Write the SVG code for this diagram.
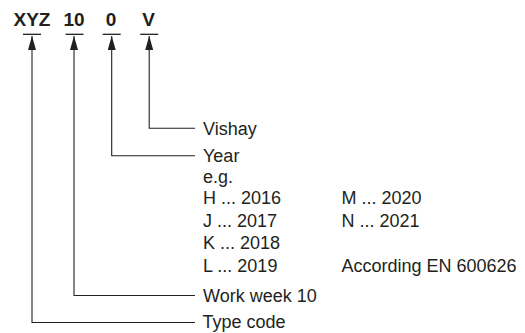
<svg xmlns="http://www.w3.org/2000/svg" width="525" height="333" viewBox="0 0 525 333">
<style>
.code{font-family:"Liberation Sans",Arial,sans-serif;font-weight:bold;font-size:19px;fill:#231f20;text-anchor:middle}
.lbl{font-family:"Liberation Sans",Arial,sans-serif;font-size:18px;fill:#231f20}
.bar{stroke:#231f20;stroke-width:1.3;fill:none}
.con{stroke:#231f20;stroke-width:1.1;fill:none;marker-end:url(#ah)}
</style>
<defs>
<marker id="ah" markerUnits="userSpaceOnUse" markerWidth="14" markerHeight="8" viewBox="0 0 14 8" refX="14" refY="4" orient="auto">
<path d="M0,0 L14,4 L0,8 Z" fill="#231f20"/>
</marker>
</defs>
<rect width="525" height="333" fill="#fff"/>
<g id="code-xyz"><text class="code" x="32" y="26">XYZ</text><line class="bar" x1="23" y1="34.3" x2="41" y2="34.3"/></g>
<g id="code-10"><text class="code" x="74" y="26">10</text><line class="bar" x1="65.5" y1="34.3" x2="83.5" y2="34.3"/></g>
<g id="code-0"><text class="code" x="111" y="26">0</text><line class="bar" x1="102.7" y1="34.3" x2="120.7" y2="34.3"/></g>
<g id="code-v"><text class="code" x="148.5" y="26">V</text><line class="bar" x1="140.2" y1="34.3" x2="158.2" y2="34.3"/></g>
<g id="connectors">
<path class="con" d="M195,322.5 H32 V36"/>
<path class="con" d="M195,295.5 H74 V36"/>
<path class="con" d="M195,155.7 H111.7 V36"/>
<path class="con" d="M195,128.3 H149.2 V36"/>
</g>
<g id="label-vishay"><text class="lbl" x="203" y="134.5">Vishay</text></g>
<g id="label-year">
<text class="lbl" x="203" y="162">Year</text>
<text class="lbl" x="203" y="182.5">e.g.</text>
<text class="lbl" x="203" y="204">H ... 2016</text>
<text class="lbl" x="203" y="226.5">J ... 2017</text>
<text class="lbl" x="203" y="249">K ... 2018</text>
<text class="lbl" x="203" y="272">L ... 2019</text>
<text class="lbl" x="341.5" y="204">M ... 2020</text>
<text class="lbl" x="341.5" y="226.5">N ... 2021</text>
<text class="lbl" x="341.5" y="272">According EN 600626</text>
</g>
<g id="label-week"><text class="lbl" x="203" y="301.5">Work week 10</text></g>
<g id="label-type"><text class="lbl" x="202.5" y="328">Type code</text></g>
</svg>
